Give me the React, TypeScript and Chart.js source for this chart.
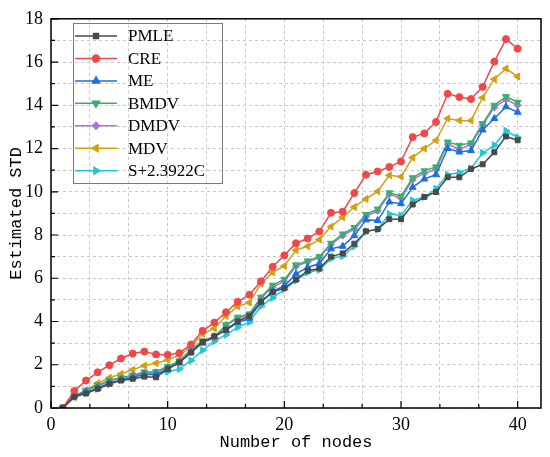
import { useEffect, useRef } from 'react'
import { Chart, registerables } from 'chart.js'
import type { Plugin } from 'chart.js'
import { drawPoint } from 'chart.js/helpers'

Chart.register(...registerables)

// x values: number of nodes 1..40
const nodes = Array.from({ length: 40 }, (_, i) => i + 1)

const pmle = [
  0, 0.52, 0.67, 0.89, 1.12, 1.27, 1.35, 1.45, 1.42, 1.8,
  2.1, 2.56, 3.06, 3.32, 3.62, 4.0, 4.26, 4.91, 5.36, 5.55,
  5.94, 6.35, 6.45, 7.0, 7.15, 7.6, 8.17, 8.27, 8.73, 8.73,
  9.41, 9.76, 9.99, 10.67, 10.67, 11.05, 11.27, 11.83, 12.56, 12.38,
]
const cre = [
  0, 0.79, 1.27, 1.65, 1.98, 2.29, 2.52, 2.61, 2.48, 2.46,
  2.54, 2.94, 3.57, 3.95, 4.43, 4.91, 5.24, 5.86, 6.53, 7.06,
  7.62, 7.84, 8.16, 9.03, 9.08, 9.94, 10.79, 10.94, 11.15, 11.4,
  12.53, 12.7, 13.23, 14.53, 14.38, 14.29, 14.85, 16.02, 17.06, 16.62,
]
const me = [
  0, 0.6, 0.72, 0.92, 1.15, 1.3, 1.42, 1.55, 1.55, 1.82,
  2.1, 2.6, 3.0, 3.3, 3.6, 3.95, 4.15, 4.9, 5.4, 5.64,
  6.2, 6.5, 6.68, 7.36, 7.48, 7.97, 8.7, 8.67, 9.53, 9.45,
  10.21, 10.59, 10.79, 12.0, 11.84, 11.91, 12.86, 13.39, 13.93, 13.68,
]
const bmdv = [
  0, 0.55, 0.82, 1.05, 1.28, 1.4, 1.52, 1.66, 1.68, 1.92,
  2.18, 2.7, 3.1, 3.28, 3.85, 4.2, 4.35, 5.12, 5.68, 5.95,
  6.62, 6.8, 7.0, 7.62, 8.05, 8.35, 8.95, 9.2, 9.95, 9.8,
  10.65, 10.97, 11.15, 12.3, 12.15, 12.26, 13.15, 14.0, 14.4, 14.14,
]
const dmdv = [
  0, 0.52, 0.8, 1.02, 1.24, 1.37, 1.5, 1.63, 1.65, 1.88,
  2.15, 2.64, 3.06, 3.21, 3.82, 4.15, 4.3, 5.09, 5.59, 5.85,
  6.55, 6.76, 6.95, 7.56, 7.97, 8.27, 8.85, 9.12, 9.88, 9.7,
  10.56, 10.86, 11.02, 12.2, 11.98, 12.18, 13.09, 13.9, 14.26, 14.0,
]
const mdv = [
  0, 0.5, 0.82, 1.15, 1.4, 1.58, 1.77, 1.96, 2.07, 2.22,
  2.43, 2.83, 3.43, 3.68, 4.25, 4.7, 4.87, 5.75, 6.27, 6.57,
  7.3, 7.48, 7.79, 8.39, 8.82, 9.3, 9.67, 10.02, 10.76, 10.7,
  11.58, 12.0, 12.38, 13.39, 13.3, 13.29, 14.36, 15.21, 15.7, 15.33,
]
const s23922c = [
  0, 0.52, 0.7, 0.88, 1.1, 1.3, 1.42, 1.6, 1.58, 1.68,
  1.8, 2.2, 2.67, 3.09, 3.39, 3.73, 3.97, 4.71, 5.1, 5.48,
  5.89, 6.27, 6.39, 6.91, 7.03, 7.48, 8.17, 8.27, 8.97, 8.9,
  9.6, 9.76, 10.14, 10.79, 10.89, 11.09, 11.8, 12.15, 12.82, 12.51,
]

const seriesNames = ['PMLE', 'CRE', 'ME', 'BMDV', 'DMDV', 'MDV', 'S+2.3922C']
const seriesValues = [pmle, cre, me, bmdv, dmdv, mdv, s23922c]
const seriesColors = ['#4a4a4a', '#f04848', '#1c6ee6', '#3aae6e', '#ac72e2', '#d4a012', '#1ec8d2']
const seriesMarkers = ['rect', 'circle', 'triangle', 'triangle', 'rectRot', 'triangle', 'triangle']
const markerRotation = [0, 0, 0, 180, 0, -90, 90]

const xMajor = 10
const xMinor = 10 / 3

const frameAndLegend: Plugin<'line'> = {
  id: 'frameAndLegend',
  afterDraw(chart) {
    const { ctx, chartArea: a, scales } = chart
    const x = scales.x
    const y = scales.y
    ctx.save()
    // inward ticks
    ctx.strokeStyle = '#000'
    ctx.lineWidth = 1.2
    ctx.beginPath()
    for (let k = 0; k * xMinor <= 42; k++) {
      const px = x.getPixelForValue(k * xMinor)
      const len = k % 3 === 0 ? 7 : 4
      ctx.moveTo(px, a.bottom)
      ctx.lineTo(px, a.bottom - len)
    }
    for (let v = 0; v <= 18; v++) {
      const py = y.getPixelForValue(v)
      const len = v % 2 === 0 ? 7 : 4
      ctx.moveTo(a.left, py)
      ctx.lineTo(a.left + len, py)
    }
    ctx.stroke()
    ctx.lineWidth = 1.5
    ctx.strokeRect(a.left, a.top, a.right - a.left, a.bottom - a.top)

    // legend box
    ctx.strokeStyle = '#7a7a7a'
    ctx.lineWidth = 1
    ctx.strokeRect(73.5, 23.5, 149, 160)
    ctx.font = '17px "Liberation Serif", serif'
    ctx.textBaseline = 'middle'
    ctx.textAlign = 'left'
    seriesNames.forEach((name, i) => {
      const ly = 36 + i * 22.45
      ctx.strokeStyle = seriesColors[i]
      ctx.fillStyle = seriesColors[i]
      ctx.lineWidth = 1.5
      ctx.beginPath()
      ctx.moveTo(75, ly)
      ctx.lineTo(117, ly)
      ctx.stroke()
      drawPoint(ctx, {
        pointStyle: seriesMarkers[i] as any,
        rotation: markerRotation[i],
        radius: seriesMarkers[i] === 'triangle' ? 4 : 3.5,
        borderWidth: 1,
      }, 96, ly)
      ctx.fillStyle = '#000'
      ctx.fillText(name, 128, ly + 1)
    })
    ctx.restore()
  },
}

export default function App() {
  const canvasRef = useRef<HTMLCanvasElement>(null)

  useEffect(() => {
    if (!canvasRef.current) return

    const chart = new Chart(canvasRef.current, {
      type: 'line',
      data: {
        datasets: seriesNames.map((name, i) => ({
          label: name,
          data: nodes.map((n, j) => ({ x: n, y: seriesValues[i][j] })),
          borderColor: seriesColors[i],
          backgroundColor: seriesColors[i],
          borderWidth: 1.5,
          pointStyle: seriesMarkers[i] as any,
          rotation: markerRotation[i],
          pointRadius: seriesMarkers[i] === 'triangle' ? 4 : 3.5,
          pointBorderWidth: 1,
          tension: 0,
        })),
      },
      options: {
        animation: false,
        responsive: true,
        maintainAspectRatio: false,
        layout: { padding: { left: 0, top: 13, right: 9, bottom: 0 } },
        plugins: {
          legend: { display: false },
          tooltip: { enabled: false },
        },
        scales: {
          x: {
            type: 'linear',
            min: 0,
            max: 42,
            afterBuildTicks: (scale) => {
              const ticks = []
              for (let k = 0; k * xMinor <= 42; k++) ticks.push({ value: k * xMinor })
              scale.ticks = ticks
            },
            afterFit: (scale) => {
              scale.height = 49
            },
            ticks: {
              autoSkip: false,
              maxRotation: 0,
              padding: 6,
              color: '#000',
              font: { family: '"Liberation Serif", serif', size: 18 },
              callback: (v) => {
                const n = Number(v)
                return Math.abs(n / xMajor - Math.round(n / xMajor)) < 1e-6 ? String(Math.round(n)) : ''
              },
            },
            grid: { color: '#c8c8c8', lineWidth: 1, drawTicks: false },
            border: { display: false, dash: [3, 3] },
            title: {
              display: true,
              text: 'Number of nodes',
              color: '#000',
              font: { family: '"Liberation Mono", monospace', size: 17 },
              padding: { top: 0, bottom: 4 },
            },
          },
          y: {
            min: 0,
            max: 18,
            afterFit: (scale) => {
              scale.width = 51
            },
            ticks: {
              stepSize: 1,
              autoSkip: false,
              padding: 8,
              color: '#000',
              font: { family: '"Liberation Serif", serif', size: 18 },
              callback: (v) => (Number(v) % 2 === 0 ? String(v) : ''),
            },
            grid: { color: '#c8c8c8', lineWidth: 1, drawTicks: false },
            border: { display: false, dash: [3, 3] },
            title: {
              display: true,
              text: 'Estimated STD',
              color: '#000',
              font: { family: '"Liberation Mono", monospace', size: 17 },
              padding: { top: 6, bottom: 0 },
            },
          },
        },
      },
      plugins: [frameAndLegend],
    })

    return () => {
      chart.destroy()
    }
  }, [])

  return (
    <div style={{ position: 'fixed', left: 0, top: 0, width: 550, height: 457, background: '#fff' }}>
      <canvas ref={canvasRef} />
    </div>
  )
}
